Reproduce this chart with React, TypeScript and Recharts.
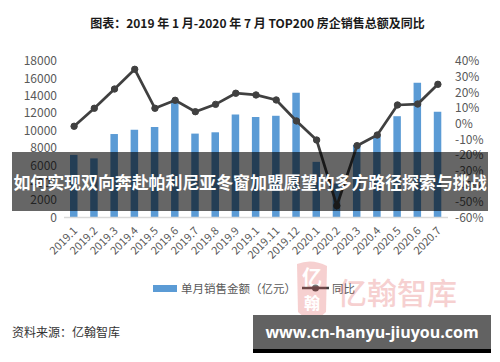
import React from 'react';
import {
  ComposedChart, Bar, Line, XAxis, YAxis, Legend,
} from 'recharts';

const months = [
  '2019.1', '2019.2', '2019.3', '2019.4', '2019.5', '2019.6', '2019.7', '2019.8', '2019.9', '2019.1',
  '2019.11', '2019.12', '2020.1', '2020.2', '2020.3', '2020.4', '2020.5', '2020.6', '2020.7',
];
const sales = [7200, 6800, 9600, 10100, 10400, 13550, 9650, 9800, 11850, 11550, 11700, 14350, 6400, 3900, 8350, 9350, 11650, 15500, 12150];
const yoy = [-1.7, 9.8, 22.1, 34.7, 9.8, 14.9, 7.6, 12.3, 19.4, 18.3, 15.1, 1.7, -10.5, -52.5, -14.1, -7.3, 11.9, 12.5, 25.1];
const leftTicks = [0, 2000, 4000, 6000, 8000, 10000, 12000, 14000, 16000, 18000];
const rightTicks = [-60, -50, -40, -30, -20, -10, 0, 10, 20, 30, 40];

const data = months.map((m, i) => ({ month: m, sales: sales[i], yoy: yoy[i] }));

const FONT = '"Noto Sans CJK SC", "Liberation Sans", sans-serif';
const BLUE = '#5b9bd5';
const LINE = '#404040';

const XTick = ({ x, y, payload }: any) => (
  <text
    x={x + 4}
    y={y + 6}
    transform={`rotate(-45 ${x + 4} ${y + 6})`}
    textAnchor="end"
    fontSize={11}
    fill="#595959"
    fontFamily={FONT}
  >
    {payload.value}
  </text>
);

const LegendContent = () => (
  <div style={{ display: 'flex', alignItems: 'center', fontFamily: FONT, fontSize: 11.5, color: '#595959' }}>
    <span style={{ width: 24, height: 7, background: BLUE, display: 'inline-block', marginRight: 4 }} />
    <span>单月销售金额（亿元）</span>
    <svg width={27} height={10} style={{ margin: '0 3px 0 6px' }}>
      <line x1={0} y1={5} x2={27} y2={5} stroke={LINE} strokeWidth={2.5} />
      <circle cx={13.5} cy={5} r={3.5} fill={LINE} />
    </svg>
    <span>同比</span>
  </div>
);

export default function App() {
  return (
    <div style={{ position: 'absolute', left: 0, top: 0, width: 500, height: 362, background: '#fff', overflow: 'hidden' }}>
      <div style={{
        position: 'absolute', left: 0, top: 14, width: 515, textAlign: 'center',
        fontFamily: FONT, fontWeight: 700, fontSize: 12, color: '#1a1a1a',
      }}>
        图表：2019 年 1 月-2020 年 7 月 TOP200 房企销售总额及同比
      </div>

      <ComposedChart width={500} height={362} data={data} margin={{ top: 61, right: 0, bottom: 104.5, left: 0 }}>
        <XAxis
          dataKey="month"
          height={40}
          tick={<XTick />}
          tickLine={false}
          axisLine={{ stroke: '#d9d9d9', strokeWidth: 1.5 }}
          interval={0}
        />
        <YAxis
          yAxisId="left"
          width={64}
          domain={[0, 18000]}
          ticks={leftTicks}
          interval={0}
          axisLine={false}
          tickLine={false}
          tickMargin={1}
          tick={{ fill: '#595959', fontSize: 12, fontFamily: FONT }}
        />
        <YAxis
          yAxisId="right"
          orientation="right"
          width={52}
          domain={[-60, 40]}
          ticks={rightTicks}
          interval={0}
          axisLine={false}
          tickLine={false}
          tickMargin={1}
          tickFormatter={(v: number) => `${v}%`}
          tick={{ fill: '#595959', fontSize: 12, fontFamily: FONT }}
        />
        <Bar yAxisId="left" dataKey="sales" fill={BLUE} barSize={7.5} isAnimationActive={false} name="单月销售金额（亿元）" />
        <Line
          yAxisId="right"
          dataKey="yoy"
          stroke={LINE}
          strokeWidth={2.75}
          dot={{ r: 3.2, fill: LINE, stroke: LINE, strokeWidth: 1 }}
          isAnimationActive={false}
          name="同比"
        />
        <Legend
          layout="horizontal"
          verticalAlign="middle"
          align="center"
          content={<LegendContent />}
          wrapperStyle={{ left: 153, top: 280, width: 220 }}
        />
      </ComposedChart>

      {/* watermark */}
      <svg width={500} height={362} style={{ position: 'absolute', left: 0, top: 0, pointerEvents: 'none' }}>
        <g opacity={0.28}>
          <path d="M297 264 Q312 258 327 266 L326 312 Q312 326 298 312 Z" fill="#e25a5a" />
          <text x={312} y={285} textAnchor="middle" fontSize={20} fill="#fff" fontFamily={FONT} fontWeight={700}>亿</text>
          <text x={312} y={309} textAnchor="middle" fontSize={16} fill="#fff" fontFamily={FONT} fontWeight={700}>翰</text>
          <text x={337} y={304} fontSize={30} fill="#e25a5a" fontFamily={FONT} fontWeight={500}>亿翰智库</text>
        </g>
      </svg>

      {/* banner over the chart */}
      <div style={{
        position: 'absolute', left: 12, top: 152, width: 476, height: 59,
        background: 'rgba(0,0,0,0.6)', color: '#fff', fontFamily: FONT, fontWeight: 700,
        fontSize: 17, lineHeight: '59px', textAlign: 'center', whiteSpace: 'nowrap', letterSpacing: -0.1,
      }}>
        如何实现双向奔赴帕利尼亚冬窗加盟愿望的多方路径探索与挑战
      </div>

      <div style={{
        position: 'absolute', left: 12, top: 323, fontFamily: FONT, fontSize: 12, color: '#333',
      }}>
        资料来源：亿翰智库
      </div>

      <div style={{
        position: 'absolute', left: 253, top: 315, width: 238, height: 34,
        background: '#626262', borderBottom: '4px solid #000', color: '#fff',
        fontFamily: '"Open Sans", "Liberation Sans", sans-serif', fontWeight: 700, fontSize: 16,
        lineHeight: '34px', textAlign: 'center',
      }}>
        www.cn-hanyu-jiuyou.com
      </div>
    </div>
  );
}
